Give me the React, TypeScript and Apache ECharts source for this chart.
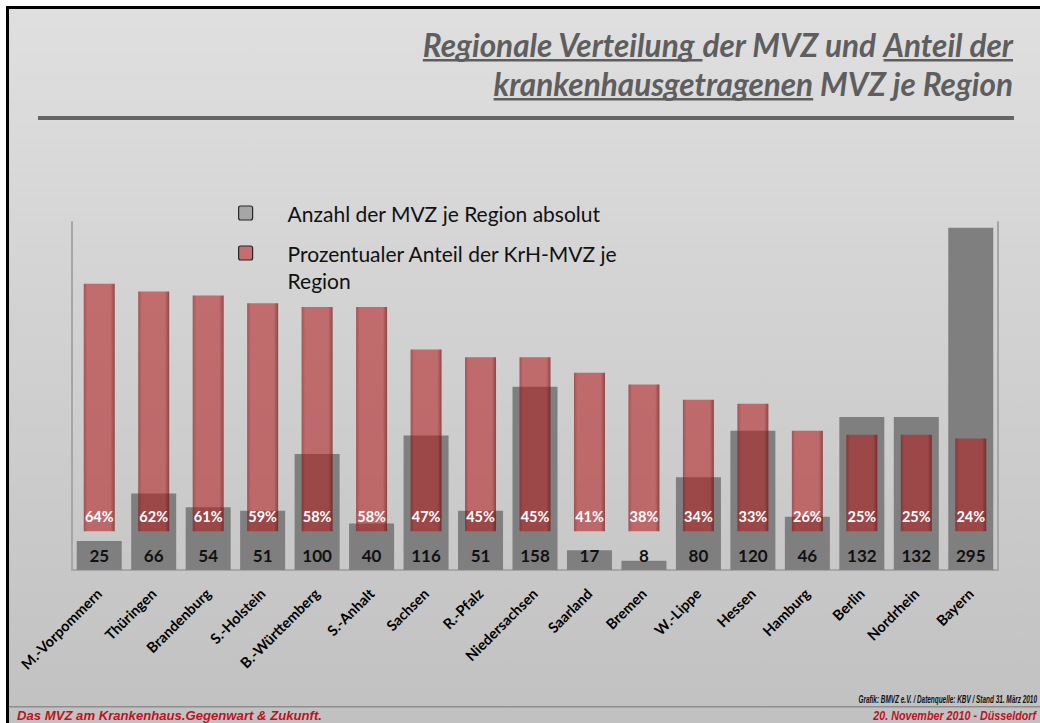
import React, { useEffect, useRef } from 'react';
import * as echarts from 'echarts';

const categories = [
  'M.-Vorpommern', 'Thüringen', 'Brandenburg', 'S.-Holstein', 'B.-Württemberg', 'S.-Anhalt',
  'Sachsen', 'R.-Pfalz', 'Niedersachsen', 'Saarland', 'Bremen', 'W.-Lippe', 'Hessen',
  'Hamburg', 'Berlin', 'Nordrhein', 'Bayern',
];
const mvzCount = [25, 66, 54, 51, 100, 40, 116, 51, 158, 17, 8, 80, 120, 46, 132, 132, 295];
const krhShare = [64, 62, 61, 59, 58, 58, 47, 45, 45, 41, 38, 34, 33, 26, 25, 25, 24];
const seriesNames = ['Anzahl der MVZ je Region absolut', 'Prozentualer Anteil der KrH-MVZ je Region'];

const titleLine1 = [
  { t: 'Regionale Verteilung ', u: true },
  { t: 'der MVZ und ', u: false },
  { t: 'Anteil der', u: true },
];
const titleLine2 = [
  { t: 'krankenhausgetragenen', u: true },
  { t: ' MVZ je Region', u: false },
];
const sourceText = 'Grafik: BMVZ e.V. / Datenquelle: KBV / Stand 31. März 2010';
const footerLeft = 'Das MVZ am Krankenhaus.Gegenwart & Zukunft.';
const footerRight = '20. November 2010 - Düsseldorf';

const FAMILY = 'Lato, "Open Sans", sans-serif';
const NARROW = '"Liberation Sans Narrow", "Liberation Sans", Arial, sans-serif';
const TITLE_COLOR = '#5e5e5e';
const FOOT_RED = '#c0111f';
const LEGEND_ICON = 'path://M2,0 H12 Q14,0 14,2 V12 Q14,14 12,14 H2 Q0,14 0,12 V2 Q0,0 2,0 Z';

function measure(text: string, font: string): number {
  const c = document.createElement('canvas');
  const ctx = c.getContext('2d') as CanvasRenderingContext2D;
  ctx.font = font;
  return ctx.measureText(text).width;
}

function titleElements(segs: { t: string; u: boolean }[], right: number, baseline: number, size: number) {
  const font = `italic bold ${size}px ${FAMILY}`;
  const widths = segs.map((s) => measure(s.t, font));
  const total = widths.reduce((a, b) => a + b, 0);
  let x = right - total;
  const els: any[] = [];
  segs.forEach((s, i) => {
    els.push({
      type: 'text',
      x,
      y: baseline - size * 0.33,
      style: {
        text: s.t,
        fontSize: size,
        fontFamily: FAMILY,
        fontWeight: 'bold',
        fontStyle: 'italic',
        fill: TITLE_COLOR,
        align: 'left',
        verticalAlign: 'middle',
      },
    });
    if (s.u) {
      els.push({
        type: 'rect',
        shape: { x, y: baseline + 4, width: widths[i], height: 2.5 },
        style: { fill: TITLE_COLOR },
      });
    }
    x += widths[i];
  });
  return els;
}

function fittedText(text: string, size: number, target: number, x: number, y: number, align: string, fill: string) {
  const font = `italic bold ${size}px ${NARROW}`;
  const w = measure(text, font);
  const sx = target / w;
  return {
    type: 'text',
    x,
    y,
    scaleX: sx,
    style: {
      text,
      fontSize: size,
      fontFamily: NARROW,
      fontWeight: 'bold',
      fontStyle: 'italic',
      fill,
      align,
      verticalAlign: 'middle',
    },
  };
}

export default function App() {
  const ref = useRef<HTMLDivElement>(null);
  useEffect(() => {
    const chart = echarts.init(ref.current as HTMLDivElement, null, { renderer: 'svg' });

    const line1Full = titleLine1.map((s) => s.t).join('');
    const baseW = measure(line1Full, `italic bold 28px ${FAMILY}`);
    const titleSize = Math.round((28 * 589) / baseW * 2) / 2;

    const redFill = new echarts.graphic.LinearGradient(0, 0, 1, 0, [
      { offset: 0, color: 'rgba(140,18,22,0.66)' },
      { offset: 0.12, color: 'rgba(178,28,30,0.56)' },
      { offset: 0.86, color: 'rgba(178,28,30,0.56)' },
      { offset: 1, color: 'rgba(110,10,14,0.70)' },
    ]);

    const bg = new echarts.graphic.LinearGradient(0, 9, 0, 723, [
      { offset: 0, color: '#dfdfdf' },
      { offset: 1, color: '#c1c1c1' },
    ], true);

    const legendText = { fontSize: 21, color: '#111', lineHeight: 27, padding: [0, 0, 0, 30], fontFamily: FAMILY };

    const option: any = {
      animation: false,
      backgroundColor: '#ffffff',
      textStyle: { fontFamily: FAMILY },
      graphic: [
        {
          type: 'rect',
          z: -10,
          shape: { x: 7.5, y: 7.5, width: 1200, height: 900 },
          style: { fill: bg, stroke: '#000', lineWidth: 3 },
        },
        {
          type: 'rect',
          shape: { x: 38, y: 116, width: 976, height: 4 },
          style: { fill: '#656565' },
        },
        ...titleElements(titleLine1, 1013, 55, titleSize),
        ...titleElements(titleLine2, 1013, 94, titleSize),
        {
          type: 'rect',
          shape: { x: 9, y: 706, width: 1040, height: 1.5 },
          style: { fill: '#8e8e8e' },
        },
        fittedText(sourceText, 10, 179, 1037, 699, 'right', '#111'),
        fittedText(footerLeft, 12.5, 305, 17, 715.5, 'left', FOOT_RED),
        fittedText(footerRight, 12.5, 163, 1036, 715.5, 'right', FOOT_RED),
      ],
      legend: [
        {
          left: 233,
          top: 194.5,
          orient: 'vertical',
          selectedMode: false,
          itemWidth: 14,
          itemHeight: 14,
          icon: LEGEND_ICON,
          data: [{ name: seriesNames[0], itemStyle: { color: '#a6a6a6', borderColor: '#262626', borderWidth: 1.2 } }],
          textStyle: legendText,
        },
        {
          left: 233,
          top: 207.5,
          orient: 'vertical',
          selectedMode: false,
          itemWidth: 14,
          itemHeight: 14,
          icon: LEGEND_ICON,
          data: [{ name: seriesNames[1], itemStyle: { color: '#c46e70', borderColor: '#262626', borderWidth: 1.2 } }],
          formatter: (n: string) => '\n' + n.replace(/ (\S+)$/, '\n$1'),
          textStyle: legendText,
        },
      ],
      grid: { left: 72, right: 42, top: 222, bottom: 153, containLabel: false },
      xAxis: [
        {
          type: 'category',
          data: categories,
          axisLine: { show: true, onZero: false, lineStyle: { color: '#a6a6a6', width: 2 } },
          axisTick: { show: false },
          axisLabel: {
            interval: 0,
            rotate: 45,
            margin: 21,
            fontSize: 14.5,
            fontWeight: 'bold',
            color: '#000',
            fontFamily: FAMILY,
          },
        },
        { type: 'category', data: categories, show: false },
      ],
      yAxis: [
        {
          type: 'value',
          min: 0,
          max: 300,
          position: 'left',
          axisLine: { show: true, lineStyle: { color: '#a6a6a6', width: 2 } },
          axisLabel: { show: false },
          axisTick: { show: false },
          splitLine: { show: false },
        },
        {
          type: 'value',
          min: -10,
          max: 80,
          position: 'right',
          axisLine: { show: true, lineStyle: { color: '#a6a6a6', width: 2 } },
          axisLabel: { show: false },
          axisTick: { show: false },
          splitLine: { show: false },
        },
      ],
      series: [
        {
          name: seriesNames[0],
          type: 'bar',
          xAxisIndex: 0,
          yAxisIndex: 0,
          barWidth: 45,
          data: mvzCount,
          itemStyle: { color: '#7f7f7f' },
          label: {
            show: true,
            position: 'insideBottom',
            distance: 6,
            fontSize: 17,
            fontWeight: 'bold',
            color: '#111',
            fontFamily: FAMILY,
          },
        },
        {
          name: seriesNames[1],
          type: 'bar',
          xAxisIndex: 1,
          yAxisIndex: 1,
          barWidth: 31,
          data: krhShare,
          itemStyle: { color: redFill },
          label: {
            show: true,
            position: 'insideBottom',
            distance: 7,
            fontSize: 14.5,
            fontWeight: 'bold',
            color: '#fff',
            fontFamily: FAMILY,
            formatter: (p: any) => `${p.value}%`,
          },
        },
      ],
    };
    chart.setOption(option);
    return () => chart.dispose();
  }, []);
  return <div ref={ref} style={{ position: 'absolute', left: 0, top: 0, width: 1040, height: 723 }} />;
}
